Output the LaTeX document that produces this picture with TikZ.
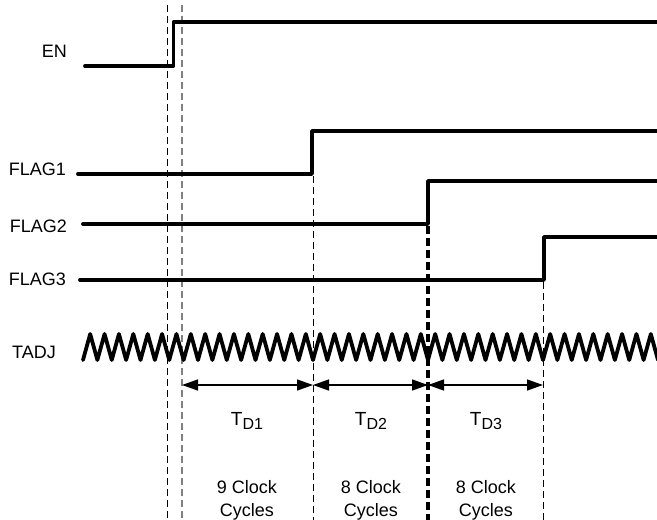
\documentclass[tikz,border=0pt]{standalone}
\usepackage{fontspec}
\setmainfont{Liberation Sans}
\usetikzlibrary{arrows.meta}
\begin{document}
\begin{tikzpicture}[x=1pt,y=-1pt,
 sig/.style={line width=3.8pt, line join=round, line cap=round},
 vdash/.style={line width=0.9pt, dash pattern=on 7pt off 4pt},
 vdashgray/.style={line width=1.1pt, dash pattern=on 7pt off 4pt, gray},
 vdashthick/.style={line width=3.2pt, dash pattern=on 8pt off 4pt},
 dim/.style={line width=1.4pt, {Triangle[length=16pt,width=11pt]}-{Triangle[length=16pt,width=11pt]}},
 lbl/.style={font=\fontsize{18}{20}\selectfont, inner sep=0pt, anchor=base east},
 tdl/.style={font=\fontsize{19}{20}\selectfont, inner sep=0pt, anchor=base},
 cyc/.style={font=\fontsize{18}{20}\selectfont, inner sep=0pt, anchor=base}
]
\useasboundingbox (0,0) rectangle (657,520);

% labels
\node[lbl] (en) at (67,57) {EN};
\node[lbl] (f1) at (66,175) {FLAG1};
\node[lbl] (f2) at (67,232) {FLAG2};
\node[lbl] (f3) at (66,285) {FLAG3};
\node[lbl] (tadj) at (56,358) {TADJ};

% vertical dashed lines
\coordinate (v1t) at (167,5);   \coordinate (v1b) at (167,520);
\coordinate (v2t) at (182,5);   \coordinate (v2b) at (182,520);
\coordinate (v3t) at (313,176); \coordinate (v3b) at (313,520);
\coordinate (v4t) at (428,226); \coordinate (v4b) at (428,520);
\coordinate (v5t) at (543,282); \coordinate (v5b) at (543,520);
\draw[vdash] (v1t) -- (v1b);
\draw[vdashgray] (v2t) -- (v2b);
\draw[vdash] (v3t) -- (v3b);
\draw[vdashthick] (v4t) -- (v4b);
\draw[vdash] (v5t) -- (v5b);

% signals
\coordinate (en0) at (85,66); \coordinate (en1) at (173.5,66);
\coordinate (en2) at (173.5,22); \coordinate (en3) at (660,22);
\draw[sig] (en0) -- (en1) -- (en2) -- (en3);

\coordinate (a0) at (78,174); \coordinate (a1) at (312,174);
\coordinate (a2) at (312,131); \coordinate (a3) at (660,131);
\draw[sig] (a0) -- (a1) -- (a2) -- (a3);

\coordinate (b0) at (83,224); \coordinate (b1) at (428,224);
\coordinate (b2) at (428,181); \coordinate (b3) at (660,181);
\draw[sig] (b0) -- (b1) -- (b2) -- (b3);

\coordinate (c0) at (80,280); \coordinate (c1) at (544,280);
\coordinate (c2) at (544,237); \coordinate (c3) at (660,237);
\draw[sig] (c0) -- (c1) -- (c2) -- (c3);

% clock
\draw[sig] (83,360)
  \foreach \k in {0,...,39} {
    -- ({83+14.375*(\k+0.5)},334) -- ({83+14.375*(\k+1)},360)
  };

% dimension arrows
\coordinate (p0) at (182,385);
\coordinate (p1) at (313,385);
\coordinate (p2) at (428,385);
\coordinate (p3) at (543,385);
\draw[dim] (p0) -- (p1);
\draw[dim] (p1) -- (p2);
\draw[dim] (p2) -- (p3);

\node[tdl] (td1) at (247,425) {T\raisebox{-4pt}{\fontsize{16}{16}\selectfont D1}};
\node[tdl] (td2) at (371,425) {T\raisebox{-4pt}{\fontsize{16}{16}\selectfont D2}};
\node[tdl] (td3) at (486,425) {T\raisebox{-4pt}{\fontsize{16}{16}\selectfont D3}};

\node[cyc] (c1a) at (247,493) {9 Clock};
\node[cyc] (c1b) at (247,516) {Cycles};
\node[cyc] (c2a) at (371,493) {8 Clock};
\node[cyc] (c2b) at (371,516) {Cycles};
\node[cyc] (c3a) at (486,493) {8 Clock};
\node[cyc] (c3b) at (486,516) {Cycles};
\end{tikzpicture}
\end{document}
